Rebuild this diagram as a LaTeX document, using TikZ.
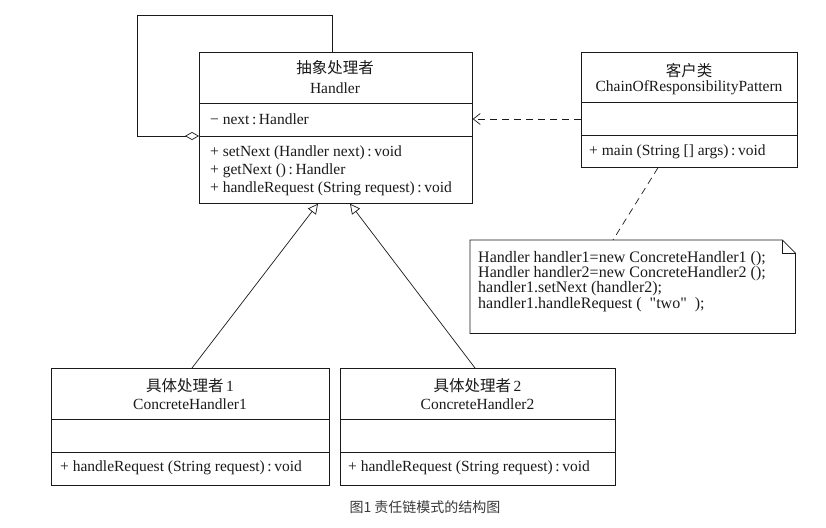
\documentclass[tikz,border=0pt]{standalone}
\usepackage{fontspec}
\setmainfont{Liberation Serif}
\newfontfamily\quotefont{Liberation Serif}[Ligatures=TeXOff]
\newfontfamily\cjk{Noto Sans CJK SC}
\usetikzlibrary{arrows.meta,calc}
\definecolor{ink}{HTML}{1A1A1A}
\definecolor{captgray}{HTML}{3A3A3A}
\tikzset{
  line/.style={draw=ink, line width=0.7pt},
  classbox/.style={line, inner sep=0pt, anchor=north west},
  txt/.style={inner sep=0pt, text=ink, font=\fontsize{15.5}{18}\selectfont},
  ntxt/.style={inner sep=0pt, text=ink, anchor=west, font=\fontsize{16}{18}\selectfont},
  ltxt/.style={txt, anchor=west},
  ctxt/.style={txt, anchor=center},
  gen/.style={line, -{Triangle[open,length=10pt,width=10pt]}},
  dep/.style={line, dash pattern=on 7pt off 5pt, -{Straight Barb[length=7pt,width=11pt]}},
  notelink/.style={line, dash pattern=on 7pt off 5pt},
  agg/.style={line, {Diamond[open,length=14pt,width=8pt]}-}
}
\begin{document}
\begin{tikzpicture}[x=1pt,y=-1pt]
\useasboundingbox[fill=white] (0,0) rectangle (826,527);

% ---- Handler
\node[classbox, minimum width=273pt, minimum height=151pt] (handler) at (199,52) {};
\draw[line] (199,103) -- (472,103);
\draw[line] (199,136) -- (472,136);
\node[ctxt] (hT1) at (335,68) {\cjk 抽象处理者};
\node[ctxt] (hT2) at (335,88) {Handler};
\node[ltxt] (hA) at (210,119) {− next\,:\,Handler};
\node[ltxt] (hM1) at (210,153) {+ setNext (Handler next)\,:\,void};
\node[ltxt] (hM2) at (210,171) {+ getNext ()\,:\,Handler};
\node[ltxt] (hM3) at (210,189) {+ handleRequest (String request)\,:\,void};

% ---- Client
\node[classbox, minimum width=216pt, minimum height=115pt] (client) at (581,52) {};
\draw[line] (581,102) -- (797,102);
\draw[line] (581,135) -- (797,135);
\node[ctxt] (cT1) at (689,71) {\cjk 客户类};
\node[ctxt] (cT2) at (689,88) {ChainOfResponsibilityPattern};
\node[ltxt] (cM1) at (589,152) {+ main (String [] args)\,:\,void};

% ---- Note
\node[inner sep=0pt, anchor=north west, minimum width=325pt, minimum height=93pt] (note) at (470,240) {};
\draw[line] (note.north west) -- ($(note.north east)+(-13,0)$) -- ($(note.north east)+(0,13)$) -- (note.south east) -- (note.south west) -- cycle;
\draw[line] ($(note.north east)+(-13,0)$) |- ($(note.north east)+(0,13)$);
\node[ntxt] (n1) at (478,259) {Handler handler1=new ConcreteHandler1 ();};
\node[ntxt] (n2) at (478,274) {Handler handler2=new ConcreteHandler2 ();};
\node[ntxt] (n3) at (478,289) {handler1.setNext (handler2);};
\node[ntxt] (n4) at (478,305) {handler1.handleRequest (\ \ {\quotefont "two"}\ \ );};

% ---- ConcreteHandler1
\node[classbox, minimum width=278pt, minimum height=117pt] (ch1) at (51,368) {};
\draw[line] (51,419) -- (329,419);
\draw[line] (51,452) -- (329,452);
\node[ctxt] (a1) at (190,386) {\cjk 具体处理者\,\rmfamily 1};
\node[ctxt] (a2) at (190,404) {ConcreteHandler1};
\node[ltxt] (a3) at (60,468) {+ handleRequest (String request)\,:\,void};

% ---- ConcreteHandler2
\node[classbox, minimum width=275pt, minimum height=117pt] (ch2) at (340,368) {};
\draw[line] (340,419) -- (615,419);
\draw[line] (340,452) -- (615,452);
\node[ctxt] (b1) at (477.5,386) {\cjk 具体处理者\,\rmfamily 2};
\node[ctxt] (b2) at (477.5,404) {ConcreteHandler2};
\node[ltxt] (b3) at (348,468) {+ handleRequest (String request)\,:\,void};

% ---- Connectors
\coordinate (loopA) at (137,15);
\draw[agg] ($(handler.north west)+(0,84)$) -| (loopA) -| ($(handler.north west)+(133,0)$);
\draw[dep] ($(client.north west)+(0,67)$) -- ($(handler.north east)+(0,67)$);
\draw[notelink] ($(client.south west)+(77,0)$) -- ($(note.north west)+(143,0)$);
\draw[gen] ($(ch1.north west)+(141,0)$) -- ($(handler.south west)+(119,0)$);
\draw[gen] ($(ch2.north west)+(135,0)$) -- ($(handler.south west)+(151,0)$);

% ---- Caption
\node[inner sep=0pt, text=captgray, font=\cjk\fontsize{14}{16}\selectfont] (cap) at (425,507) {图1 责任链模式的结构图};
\end{tikzpicture}
\end{document}
